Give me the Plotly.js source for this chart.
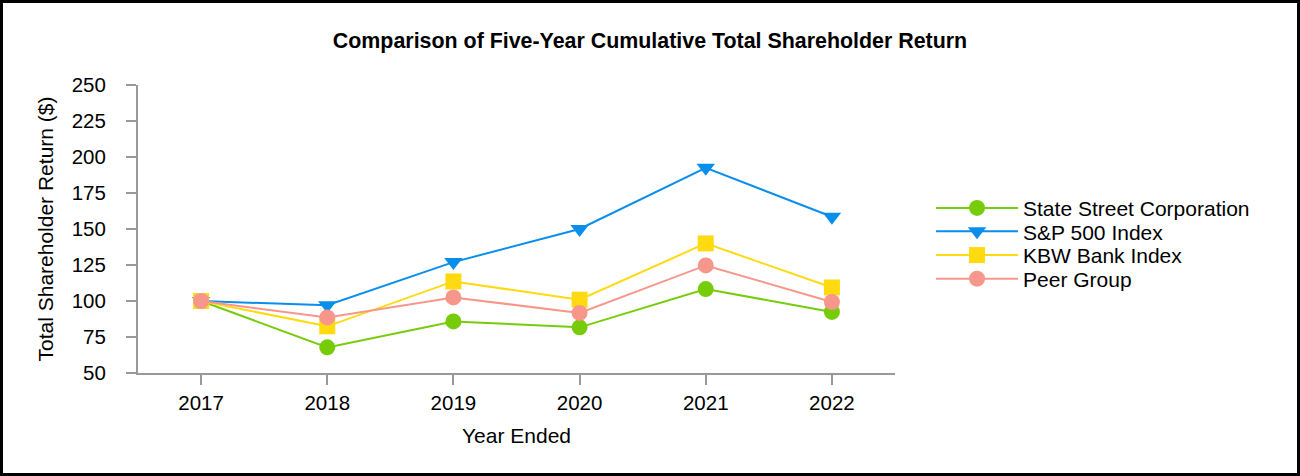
<!DOCTYPE html>
<html><head><meta charset="utf-8">
<script src="https://cdn.plot.ly/plotly-3.0.1.min.js"></script>
<style>
html,body{margin:0;padding:0;background:#fff;}
#wrap{width:1300px;height:476px;box-sizing:border-box;border:3px solid #000;}
#chart{width:1294px;height:470px;}
</style></head>
<body><div id="wrap"><div id="chart"></div></div>
<script>
const years = ["2017","2018","2019","2020","2021","2022"];
const stateStreet = [100, 67.8, 85.8, 81.7, 108.3, 92.4];
const sp500 = [100, 97, 127, 150, 192.5, 158.5];
const kbw = [100, 82.4, 113.6, 100.9, 140, 109.4];
const peer = [100, 88.6, 102.5, 91.7, 124.7, 99.3];
const seriesNames = ["State Street Corporation","S&P 500 Index","KBW Bank Index","Peer Group"];
const yTicks = [50,75,100,125,150,175,200,225,250];

const colors = ["#77CC0A","#0A8EEB","#FFDA10","#F7978C"];
const symbols = ["circle","triangle-down","square","circle"];
const legendIds = ["legend","legend2","legend3","legend4"];
const data = [stateStreet, sp500, kbw, peer].map((vals,i)=>({
  type:"scatter", mode:"lines+markers", x:years, y:vals, name:seriesNames[i],
  legend:legendIds[i],
  line:{color:colors[i], width:2},
  marker:{color:colors[i], symbol:symbols[i], size:16}
}));
const ff = "Liberation Sans, Arial, sans-serif";
const tickFont = {family:ff, color:"#000", size:20.5};
const font = {family:ff, color:"#000", size:21};
const legendY = [0.572, 0.4906, 0.4083, 0.3264];
const layout = {
  width:1294, height:470,
  margin:{l:135, r:402, t:82.3, b:99.7},
  paper_bgcolor:"#fff", plot_bgcolor:"#fff",
  font: font,
  title:{text:"<b>Comparison of Five-Year Cumulative Total Shareholder Return</b>",
    font:{family:ff, size:21.4, color:"#000"},
    x:0.5, xref:"container", xanchor:"center", y:1-38/470, yref:"container", yanchor:"middle"},
  xaxis:{type:"category", range:[-0.5,5.5], showgrid:false, zeroline:false,
    showline:true, linecolor:"#999", linewidth:2, ticks:"outside", ticklen:10, tickwidth:2, tickcolor:"#999",
    tickfont:tickFont, title:{text:"Year Ended", font:font, standoff:16}},
  yaxis:{range:[50,250], tickvals:yTicks, ticktext:yTicks.map(String), showgrid:false, zeroline:false,
    showline:true, linecolor:"#999", linewidth:2, ticks:"outside", ticklen:10, tickwidth:2, tickcolor:"#999",
    ticklabelstandoff:16,
    tickfont:tickFont, title:{text:"Total Shareholder Return ($)", font:font, standoff:12}},
  showlegend:true
};
legendIds.forEach((id,i)=>{
  layout[id] = {x:1.0476, xanchor:"left", y:legendY[i], yanchor:"middle", font:font, itemwidth:82,
    bgcolor:"rgba(0,0,0,0)"};
});
Plotly.newPlot("chart", data, layout, {displayModeBar:false, staticPlot:true});
</script></body></html>
